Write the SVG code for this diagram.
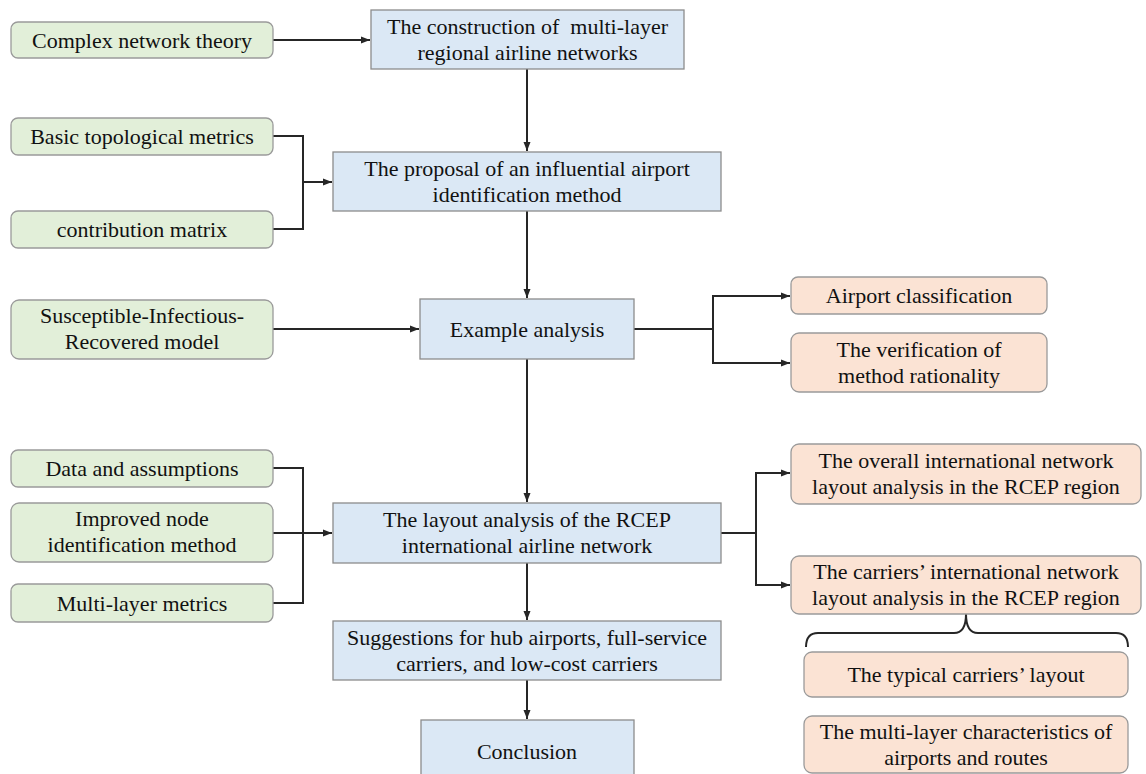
<svg xmlns="http://www.w3.org/2000/svg" width="1146" height="774" viewBox="0 0 1146 774">
<defs>
<marker id="arr" markerWidth="10" markerHeight="8" refX="9" refY="4" orient="auto" markerUnits="userSpaceOnUse">
<path d="M0,0.5 L9,4 L0,7.5 Z" fill="#262626"/>
</marker>
<style>
.g{fill:#e2efd9;stroke:#9a9a9a;stroke-width:1.3}
.b{fill:#dbe8f5;stroke:#8c8c8c;stroke-width:1.3}
.o{fill:#fbe3d4;stroke:#9a9a9a;stroke-width:1.3}
.t{font-family:'Times New Roman','Liberation Serif','DejaVu Serif','Noto Serif',Times,serif;font-size:22px;fill:#111;text-anchor:middle}
.c{fill:none;stroke:#262626;stroke-width:2}
</style>
</defs>
<rect width="1146" height="774" fill="#fff"/>
<g id="connectors">
<line class="c" x1="273" y1="40" x2="370" y2="40" marker-end="url(#arr)"/>
<polyline class="c" points="273,136 303,136 303,229 273,229"/>
<line class="c" x1="303" y1="182" x2="332" y2="182" marker-end="url(#arr)"/>
<line class="c" x1="273" y1="329" x2="419" y2="329" marker-end="url(#arr)"/>
<polyline class="c" points="273,468 303,468 303,603 273,603"/>
<line class="c" x1="273" y1="533" x2="332" y2="533" marker-end="url(#arr)"/>
<line class="c" x1="527" y1="69" x2="527" y2="151" marker-end="url(#arr)"/>
<line class="c" x1="527" y1="211" x2="527" y2="298" marker-end="url(#arr)"/>
<line class="c" x1="527" y1="359" x2="527" y2="502" marker-end="url(#arr)"/>
<line class="c" x1="527" y1="563" x2="527" y2="620" marker-end="url(#arr)"/>
<line class="c" x1="527" y1="680" x2="527" y2="719" marker-end="url(#arr)"/>
<line class="c" x1="634" y1="329" x2="713" y2="329"/>
<line class="c" x1="713" y1="296" x2="713" y2="363"/>
<line class="c" x1="712" y1="296" x2="790" y2="296" marker-end="url(#arr)"/>
<line class="c" x1="712" y1="363" x2="790" y2="363" marker-end="url(#arr)"/>
<line class="c" x1="721" y1="533" x2="756" y2="533"/>
<line class="c" x1="756" y1="473" x2="756" y2="585"/>
<line class="c" x1="755" y1="473" x2="790" y2="473" marker-end="url(#arr)"/>
<line class="c" x1="755" y1="585" x2="790" y2="585" marker-end="url(#arr)"/>
<path class="c" d="M806,647 Q806,633 818,633 L954,633 Q966,633 966,614 Q966,633 978,633 L1116,633 Q1128,633 1128,647"/>
</g>
<g id="n-complex"><rect class="g" x="11" y="22" width="262" height="36" rx="7"/><text class="t" x="142" y="47.5">Complex network theory</text></g>
<g id="n-basic"><rect class="g" x="11" y="118" width="262" height="37" rx="7"/><text class="t" x="142" y="144">Basic topological metrics</text></g>
<g id="n-contribution"><rect class="g" x="11" y="211" width="262" height="37" rx="7"/><text class="t" x="142" y="237">contribution matrix</text></g>
<g id="n-sir"><rect class="g" x="11" y="300" width="262" height="59" rx="8"/><text class="t" x="142" y="323">Susceptible-Infectious-</text><text class="t" x="142" y="349">Recovered model</text></g>
<g id="n-data"><rect class="g" x="11" y="450" width="262" height="37" rx="7"/><text class="t" x="142" y="476">Data and assumptions</text></g>
<g id="n-improved"><rect class="g" x="11" y="503" width="262" height="59" rx="8"/><text class="t" x="142" y="526">Improved node</text><text class="t" x="142" y="552">identification method</text></g>
<g id="n-multimetrics"><rect class="g" x="11" y="584" width="262" height="38" rx="7"/><text class="t" x="142" y="610.5">Multi-layer metrics</text></g>
<g id="n-construction"><rect class="b" x="371" y="10" width="313" height="59"/><text class="t" x="527.5" y="34" xml:space="preserve">The construction of  multi-layer</text><text class="t" x="527.5" y="60">regional airline networks</text></g>
<g id="n-proposal"><rect class="b" x="333" y="152" width="388" height="59"/><text class="t" x="527" y="176">The proposal of an influential airport</text><text class="t" x="527" y="202">identification method</text></g>
<g id="n-example"><rect class="b" x="420" y="299" width="214" height="60"/><text class="t" x="527" y="337">Example analysis</text></g>
<g id="n-layout"><rect class="b" x="333" y="503" width="388" height="60"/><text class="t" x="527" y="527">The layout analysis of the RCEP</text><text class="t" x="527" y="553">international airline network</text></g>
<g id="n-suggestions"><rect class="b" x="333" y="621" width="388" height="59"/><text class="t" x="527" y="645">Suggestions for hub airports, full-service</text><text class="t" x="527" y="671">carriers, and low-cost carriers</text></g>
<g id="n-conclusion"><rect class="b" x="421" y="720" width="213" height="60"/><text class="t" x="527" y="759">Conclusion</text></g>
<g id="n-airport"><rect class="o" x="791" y="277" width="256" height="37" rx="7"/><text class="t" x="919" y="303">Airport classification</text></g>
<g id="n-verification"><rect class="o" x="791" y="333" width="256" height="59" rx="8"/><text class="t" x="919" y="357">The verification of</text><text class="t" x="919" y="383">method rationality</text></g>
<g id="n-overall"><rect class="o" x="791" y="444" width="350" height="60" rx="8"/><text class="t" x="966" y="468">The overall international network</text><text class="t" x="966" y="494">layout analysis in the RCEP region</text></g>
<g id="n-carriers"><rect class="o" x="791" y="556" width="350" height="58" rx="8"/><text class="t" x="966" y="579">The carriers’ international network</text><text class="t" x="966" y="605">layout analysis in the RCEP region</text></g>
<g id="n-typical"><rect class="o" x="804" y="652" width="324" height="45" rx="8"/><text class="t" x="966" y="682">The typical carriers’ layout</text></g>
<g id="n-multichar"><rect class="o" x="804" y="716" width="324" height="57" rx="8"/><text class="t" x="966" y="739">The multi-layer characteristics of</text><text class="t" x="966" y="765">airports and routes</text></g>
</svg>
